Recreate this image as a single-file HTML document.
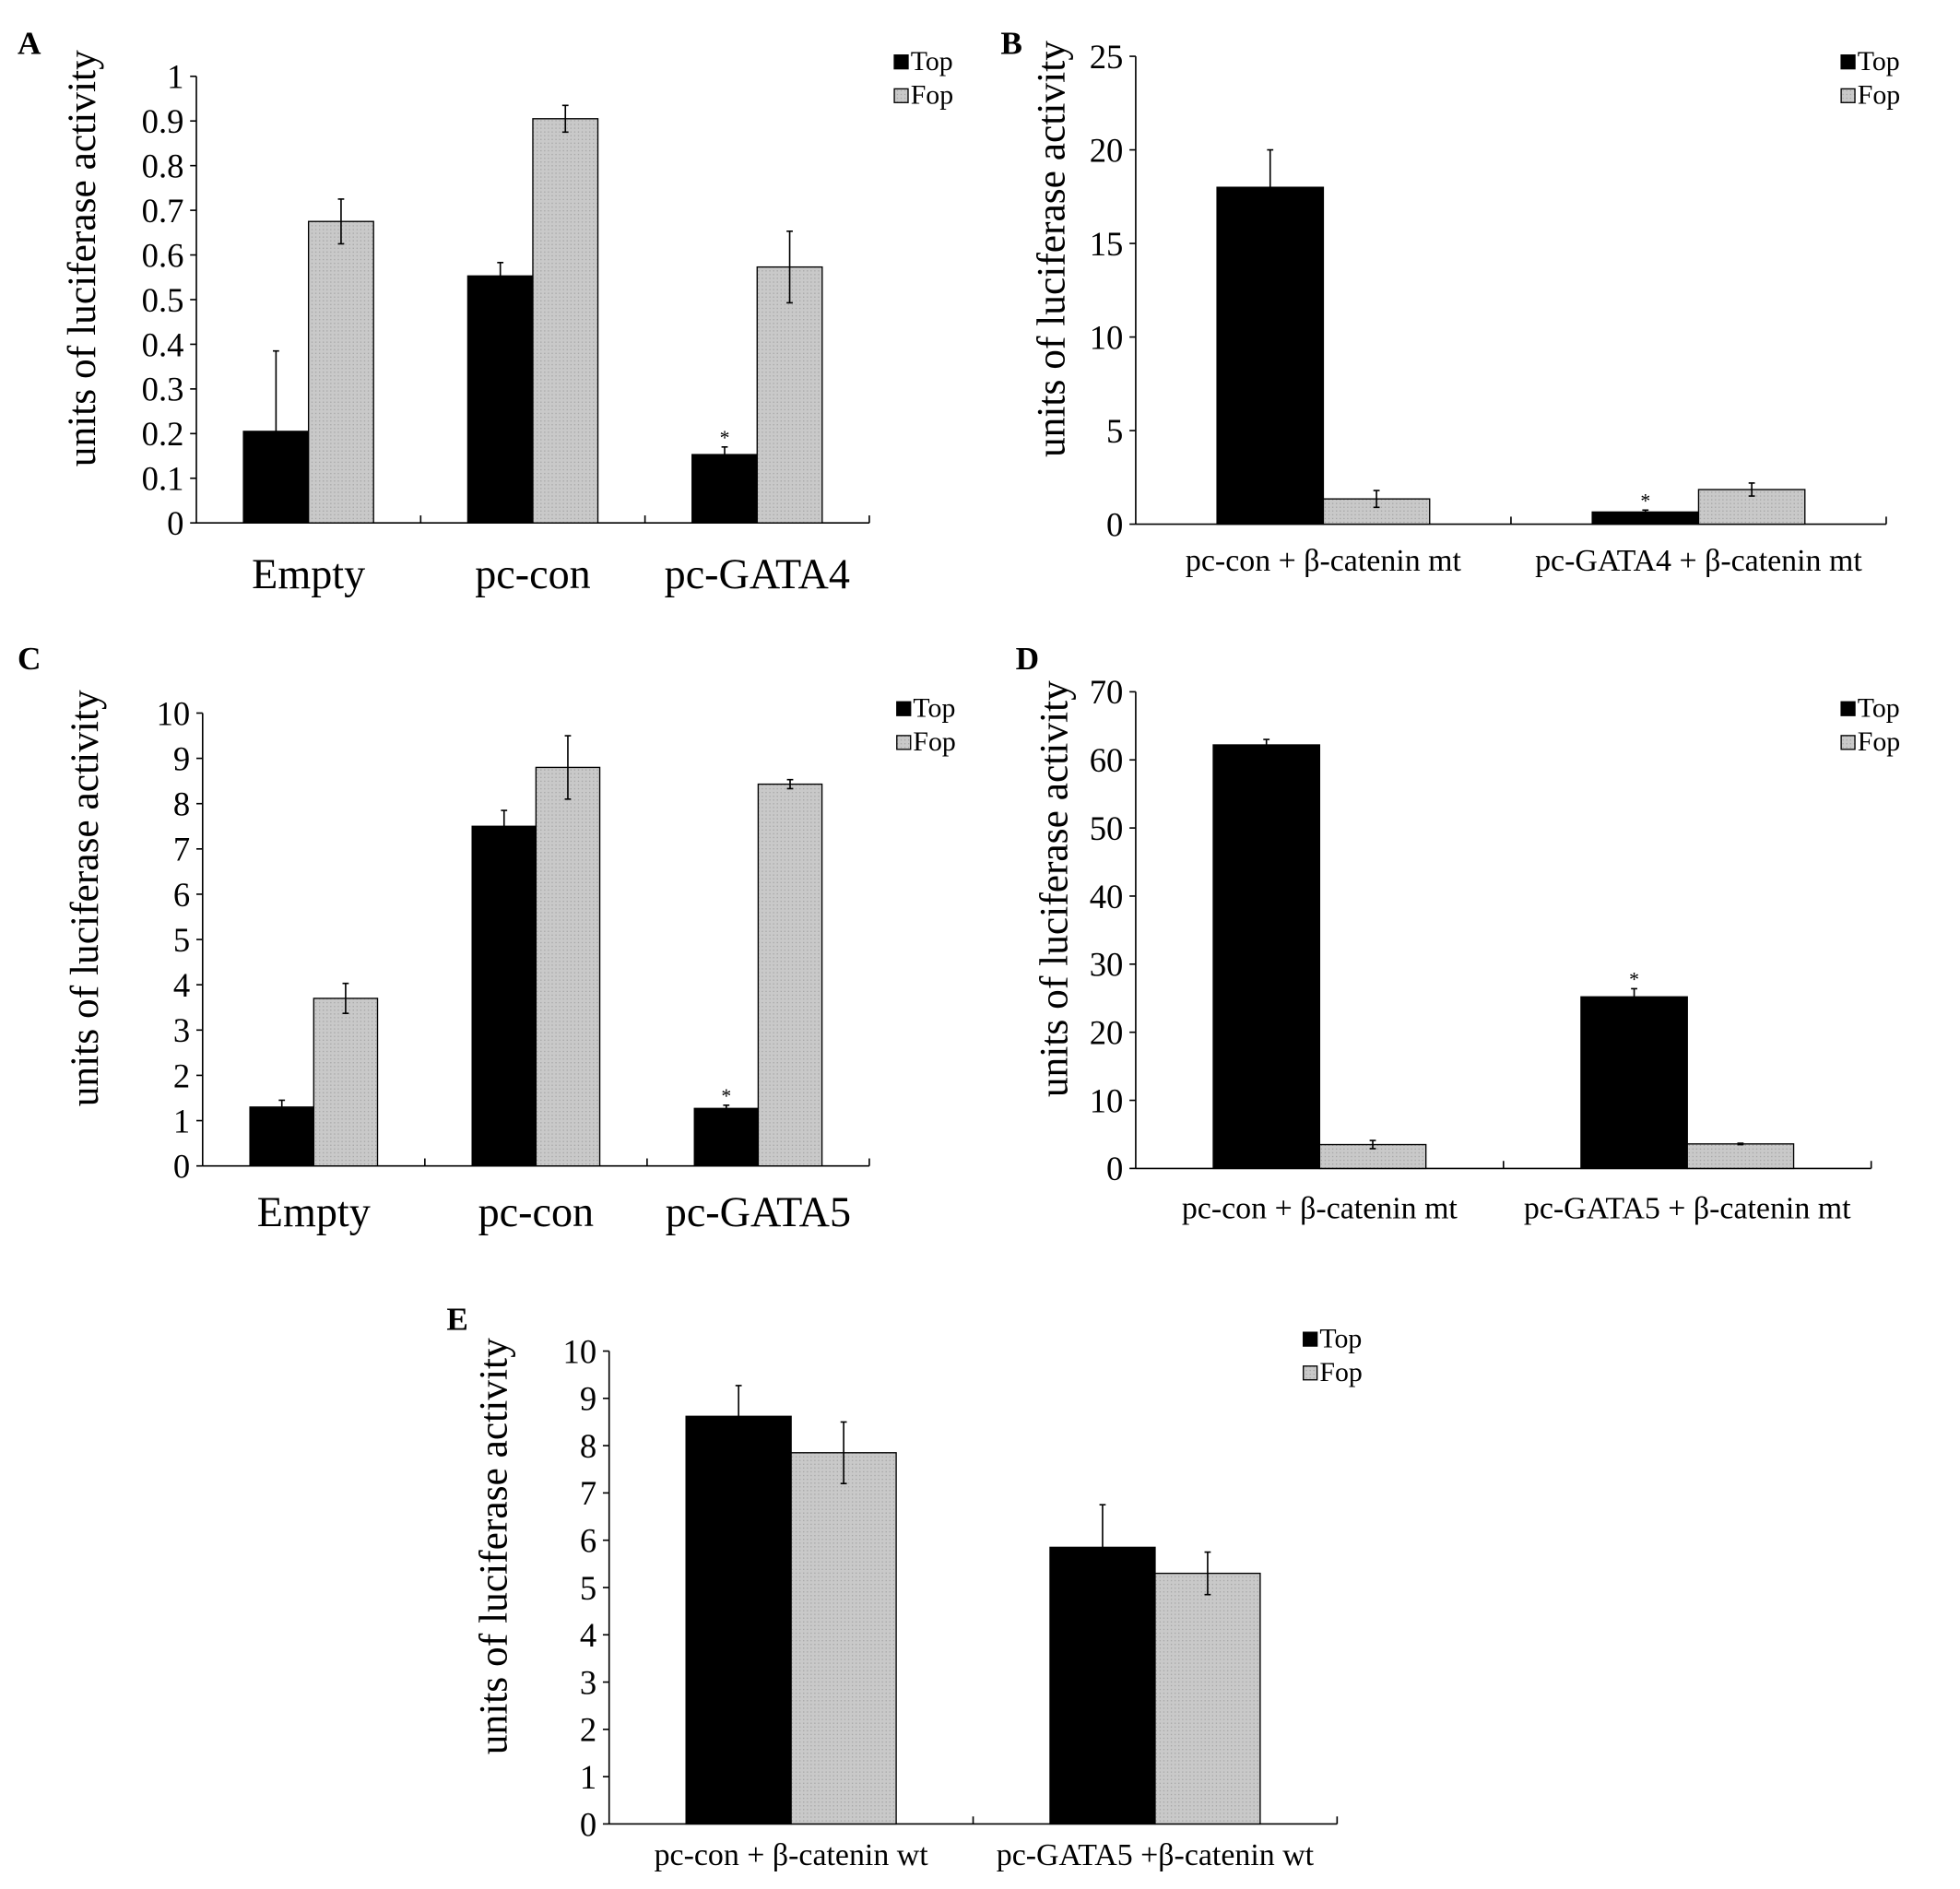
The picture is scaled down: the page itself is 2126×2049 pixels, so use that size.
<!DOCTYPE html>
<html><head><meta charset="utf-8"><title>Luciferase activity panels</title>
<style>html,body{margin:0;padding:0;background:#fff}svg{display:block}text{font-family:"Liberation Serif",serif;fill:#000}</style>
</head><body>
<svg id="fig" width="2126" height="2049" viewBox="0 0 1567 1510" preserveAspectRatio="none" xmlns="http://www.w3.org/2000/svg">
<defs>
<pattern id="hatch" width="3" height="3" patternUnits="userSpaceOnUse">
<rect width="3" height="3" fill="#c9c9c9"/><rect width="1" height="1" fill="#a8a8a8"/>
</pattern>
</defs>
</svg>
<script>
// Panel A
const catsA = ["Empty", "pc-con", "pc-GATA4"];
const topA = [0.205, 0.553, 0.153];
const topErrA = [0.18, 0.03, 0.017];
const fopA = [0.675, 0.905, 0.573];
const fopErrA = [0.05, 0.03, 0.08];
const ticksA = ["0","0.1","0.2","0.3","0.4","0.5","0.6","0.7","0.8","0.9","1"];
const starA = [false, false, true];
// Panel B
const catsB = ["pc-con + β-catenin mt", "pc-GATA4 + β-catenin mt"];
const topB = [18.0, 0.65];
const topErrB = [2.0, 0.1];
const fopB = [1.35, 1.85];
const fopErrB = [0.45, 0.35];
const ticksB = ["0","5","10","15","20","25"];
const starB = [false, true];
// Panel C
const catsC = ["Empty", "pc-con", "pc-GATA5"];
const topC = [1.3, 7.5, 1.27];
const topErrC = [0.15, 0.35, 0.07];
const fopC = [3.7, 8.8, 8.43];
const fopErrC = [0.33, 0.7, 0.1];
const ticksC = ["0","1","2","3","4","5","6","7","8","9","10"];
const starC = [false, false, true];
// Panel D
const catsD = ["pc-con + β-catenin mt", "pc-GATA5 + β-catenin mt"];
const topD = [62.2, 25.2];
const topErrD = [0.8, 1.2];
const fopD = [3.5, 3.6];
const fopErrD = [0.6, 0.1];
const ticksD = ["0","10","20","30","40","50","60","70"];
const starD = [false, true];
// Panel E
const catsE = ["pc-con + β-catenin wt", "pc-GATA5 +β-catenin wt"];
const topE = [8.62, 5.85];
const topErrE = [0.65, 0.9];
const fopE = [7.85, 5.3];
const fopErrE = [0.65, 0.45];
const ticksE = ["0","1","2","3","4","5","6","7","8","9","10"];
const starE = [false, false];

const NS = "http://www.w3.org/2000/svg";
const svg = document.getElementById("fig");
function mk(tag, attrs, parent) {
  const e = document.createElementNS(NS, tag);
  for (const k in attrs) e.setAttribute(k, attrs[k]);
  (parent || svg).appendChild(e);
  return e;
}

function panel(p) {
  const g = mk("g", {});
  
  
  const ymax = parseFloat(p.ticks[p.ticks.length - 1]);
  const yS = v => p.y0 - (v / ymax) * (p.y0 - p.y1);
  const n = p.cats.length;
  const gw = (p.x1 - p.x0) / n;
  const xS = i => p.x0 + gw * (i + 0.5);

  const letter = mk("text", {x: p.lx, y: p.ly, "font-size": 26, "font-weight": "bold"}, g);
  letter.textContent = p.letter;
  
  

  const ya = mk("line", {x1: p.x0, y1: p.y1, x2: p.x0, y2: p.y0, stroke: "#000", "stroke-width": 1.2}, g);
  
  
  p.ticks.forEach(t => {
    const y = yS(parseFloat(t));
    const tk = mk("line", {x1: p.x0 - 5, y1: y, x2: p.x0, y2: y, stroke: "#000", "stroke-width": 1.2}, g);
    
    
    const tl = mk("text", {x: p.x0 - 10, y: y + p.tfs * 0.35, "font-size": p.tfs, "text-anchor": "end"}, g);
    tl.textContent = t;
    
    
  });
  const xa = mk("line", {x1: p.x0, y1: p.y0, x2: p.x1, y2: p.y0, stroke: "#000", "stroke-width": 1.2}, g);
  
  
  for (let i = 1; i <= n; i++) {
    const x = p.x0 + gw * i;
    const tk = mk("line", {x1: x, y1: p.y0, x2: x, y2: p.y0 - 6, stroke: "#000", "stroke-width": 1.2}, g);
    
    
  }
  const cy = (p.y0 + p.y1) / 2 - 33;
  const yt = mk("text", {x: p.ytx, y: cy, "font-size": 32, "text-anchor": "middle", transform: `rotate(-90 ${p.ytx} ${cy})`}, g);
  yt.textContent = "units of luciferase activity";
  
  

  p.cats.forEach((c, i) => {
    const cx = xS(i);
    const series = [[p.top[i], p.topErr[i], "#000", "top"], [p.fop[i], p.fopErr[i], "url(#hatch)", "fop"]];
    series.forEach((s, j) => {
      const bx = j === 0 ? cx - p.bw : cx;
      const yv = yS(s[0]);
      const r = mk("rect", {x: bx, y: yv, width: p.bw, height: p.y0 - yv, fill: s[2], stroke: "#000", "stroke-width": 1}, g);
      
      
      const mx = bx + p.bw / 2;
      const eh = yS(s[0] + s[1]), el = yS(s[0] - s[1]);
      const eb = mk("path", {d: `M${mx} ${eh}V${el}M${mx-2.5} ${eh}H${mx+2.5}M${mx-2.5} ${el}H${mx+2.5}`, stroke: "#000", "stroke-width": 1.2, fill: "none"}, g);
      
      
      if (j === 0 && p.star[i]) {
        const st = mk("text", {x: mx, y: eh - 2, "font-size": 16, "text-anchor": "middle"}, g);
        st.textContent = "*";
        
        
      }
    });
    const cl = mk("text", {x: cx, y: p.cly, "font-size": p.cfs, "text-anchor": "middle"}, g);
    cl.textContent = c;
    
    
  });

  [["#000", "Top", 0], ["url(#hatch)", "Fop", 27]].forEach(l => {
    const sq = mk("rect", {x: p.lgx, y: p.lgy + l[2] - 6, width: 11, height: 11, fill: l[0], stroke: "#000", "stroke-width": 1}, g);
    
    
    const lt = mk("text", {x: p.lgx + 13, y: p.lgy + l[2] + 6, "font-size": 22}, g);
    lt.textContent = l[1];
    
    
  });
}

panel({letter: "A", lx: 14, ly: 43, cats: catsA, top: topA, topErr: topErrA, fop: fopA, fopErr: fopErrA, ticks: ticksA, star: starA,
  x0: 157, x1: 695, y0: 418, y1: 61, bw: 52, tfs: 27, cfs: 34, cly: 470, ytx: 76, lgx: 715, lgy: 50});
panel({letter: "B", lx: 800, ly: 43, cats: catsB, top: topB, topErr: topErrB, fop: fopB, fopErr: fopErrB, ticks: ticksB, star: starB,
  x0: 908, x1: 1508, y0: 419, y1: 45, bw: 85, tfs: 27, cfs: 25, cly: 456, ytx: 851, lgx: 1472, lgy: 50});
panel({letter: "C", lx: 14, ly: 535, cats: catsC, top: topC, topErr: topErrC, fop: fopC, fopErr: fopErrC, ticks: ticksC, star: starC,
  x0: 162, x1: 695, y0: 932, y1: 570, bw: 51, tfs: 27, cfs: 34, cly: 980, ytx: 78, lgx: 717, lgy: 567});
panel({letter: "D", lx: 812, ly: 535, cats: catsD, top: topD, topErr: topErrD, fop: fopD, fopErr: fopErrD, ticks: ticksD, star: starD,
  x0: 908, x1: 1496, y0: 934, y1: 553, bw: 85, tfs: 27, cfs: 25, cly: 974, ytx: 853, lgx: 1472, lgy: 567});
panel({letter: "E", lx: 357, ly: 1063, cats: catsE, top: topE, topErr: topErrE, fop: fopE, fopErr: fopErrE, ticks: ticksE, star: starE,
  x0: 487, x1: 1069, y0: 1458, y1: 1080, bw: 84, tfs: 27, cfs: 25, cly: 1491, ytx: 405, lgx: 1042, lgy: 1071});
</script>
</body></html>
